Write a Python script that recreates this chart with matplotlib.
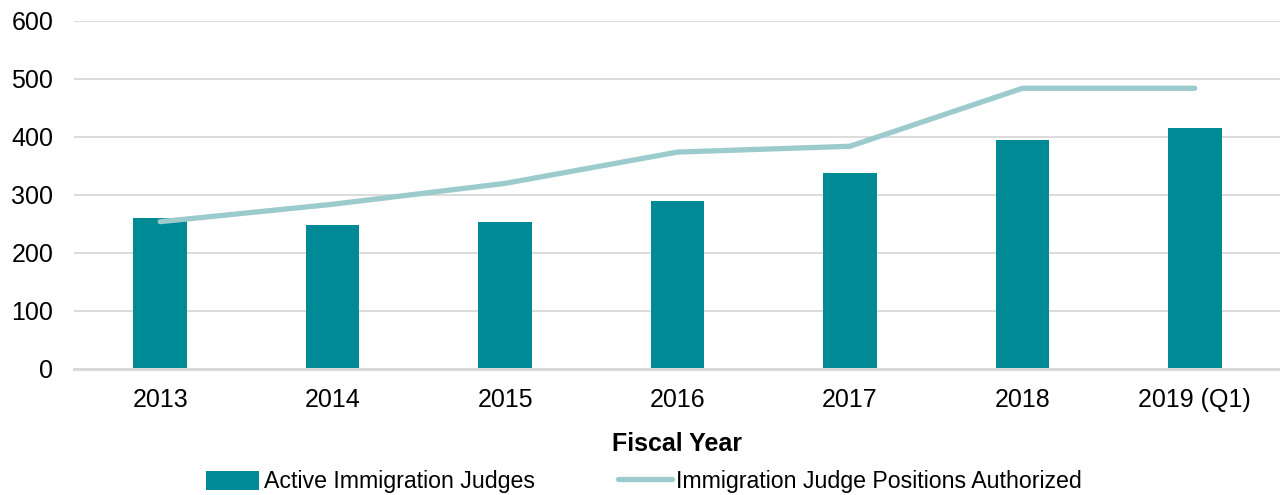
import matplotlib.pyplot as plt
from matplotlib.lines import Line2D
from matplotlib.patches import Patch

years = ["2013", "2014", "2015", "2016", "2017", "2018", "2019 (Q1)"]
active_judges = [261, 248, 254, 289, 338, 395, 415]
positions_authorized = [254, 284, 320, 374, 384, 484, 484]

bar_color = '#008A96'
line_color = '#9BCBCC'

plt.rcParams['font.family'] = ['Liberation Sans', 'DejaVu Sans']

fig = plt.figure(figsize=(12.8, 4.95), dpi=100)
ax = fig.add_axes([74 / 1280, 1 - 369 / 495, (1281 - 74) / 1280, (369 - 21) / 495])

x = list(range(len(years)))
ax.bar(x, active_judges, width=0.31, color=bar_color, zorder=2)
ax.plot(x, positions_authorized, color=line_color, linewidth=3.8,
        solid_capstyle='round', solid_joinstyle='round', zorder=3)

ax.set_xlim(-0.5, len(years) - 0.5)
ax.set_ylim(0, 600)
ax.set_yticks(range(0, 601, 100))
ax.set_xticks(x)
ax.set_xticklabels(years)
ax.tick_params(axis='both', length=0, labelsize=18, colors='black')
ax.tick_params(axis='y', pad=15)
ax.tick_params(axis='x', pad=14)

# 網格與邊框
ax.grid(axis='y', color='#D9D9D9', linewidth=1.3, zorder=0)
for side in ['top', 'right', 'left']:
    ax.spines[side].set_visible(False)
ax.spines['bottom'].set_color('#D9D9D9')
ax.spines['bottom'].set_linewidth(2.2)
ax.spines['bottom'].set_zorder(4)

ax.set_xlabel("Fiscal Year", fontsize=18, fontweight='bold', labelpad=14)

handles = [
    Patch(facecolor=bar_color, label="Active Immigration Judges"),
    Line2D([0], [0], color=line_color, linewidth=3.8, solid_capstyle='round',
           label="Immigration Judge Positions Authorized"),
]
fig.legend(handles=handles, loc='center', bbox_to_anchor=(0.503, 0.027), ncol=2,
           frameon=False, fontsize=16.7, handlelength=2.3, handletextpad=0.2,
           columnspacing=3.6, handleheight=0.9)

fig.savefig("out.png", dpi=100)
